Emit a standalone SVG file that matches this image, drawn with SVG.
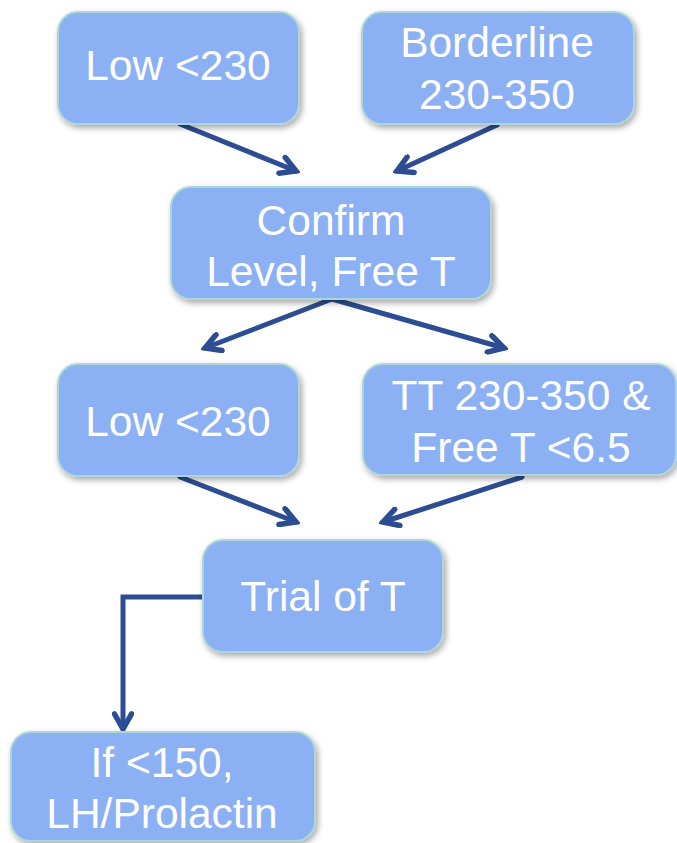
<svg xmlns="http://www.w3.org/2000/svg" width="677" height="843" viewBox="0 0 677 843">
<style>
.box{fill:#8cb0f4;stroke:#abd6d8;stroke-width:2;filter:url(#sh)}
.t{font-family:"Liberation Sans",Arial,sans-serif;font-size:42.5px;fill:#fff;text-anchor:middle}
.c{fill:none;stroke:#2d4d92;stroke-width:5;stroke-linecap:round;stroke-linejoin:miter}
</style>
<defs>
<filter id="sh" x="-20%" y="-20%" width="140%" height="140%">
<feDropShadow dx="2" dy="3" stdDeviation="3" flood-color="#000" flood-opacity="0.35"/>
</filter>
<marker id="ah" viewBox="-18 -11 22 22" markerWidth="22" markerHeight="22" refX="0" refY="0" orient="auto" markerUnits="userSpaceOnUse">
<path d="M-15,-8.5 L0,0 L-15,8.5" fill="none" stroke="#2d4d92" stroke-width="5.5" stroke-linecap="round" stroke-linejoin="miter"/>
</marker>
</defs>
<rect width="677" height="843" fill="#fff"/>
<g id="connectors">
<line class="c" x1="180" y1="124" x2="296" y2="171" marker-end="url(#ah)"/>
<line class="c" x1="497" y1="125" x2="397" y2="171" marker-end="url(#ah)"/>
<line class="c" x1="332" y1="299" x2="205" y2="348" marker-end="url(#ah)"/>
<line class="c" x1="332" y1="299" x2="504" y2="348" marker-end="url(#ah)"/>
<line class="c" x1="180" y1="477" x2="296" y2="522" marker-end="url(#ah)"/>
<line class="c" x1="522" y1="477" x2="383" y2="522" marker-end="url(#ah)"/>
<polyline class="c" style="stroke-linecap:butt" points="203,597 123,597 123,729" marker-end="url(#ah)"/>
</g>
<g id="n1"><rect class="box" x="58" y="12" width="241" height="112" rx="20"/><text class="t" x="178" y="80">Low &lt;230</text></g>
<g id="n2"><rect class="box" x="362" y="12" width="272" height="112" rx="20"/><text class="t" x="497" y="57">Borderline</text><text class="t" x="497" y="109">230-350</text></g>
<g id="n3"><rect class="box" x="171" y="187" width="320" height="112" rx="20"/><text class="t" x="331" y="235">Confirm</text><text class="t" x="331" y="286">Level, Free T</text></g>
<g id="n4"><rect class="box" x="58" y="364" width="241" height="112" rx="20"/><text class="t" x="178" y="436">Low &lt;230</text></g>
<g id="n5"><rect class="box" x="363" y="364" width="313" height="111" rx="20"/><text class="t" x="521" y="410">TT 230-350 &amp;</text><text class="t" x="521" y="462">Free T &lt;6.5</text></g>
<g id="n6"><rect class="box" x="203" y="540" width="240" height="112" rx="20"/><text class="t" x="323" y="611">Trial of T</text></g>
<g id="n7"><rect class="box" x="11" y="732" width="304" height="109" rx="20"/><text class="t" x="162" y="777">If &lt;150,</text><text class="t" x="162" y="828">LH/Prolactin</text></g>
</svg>
